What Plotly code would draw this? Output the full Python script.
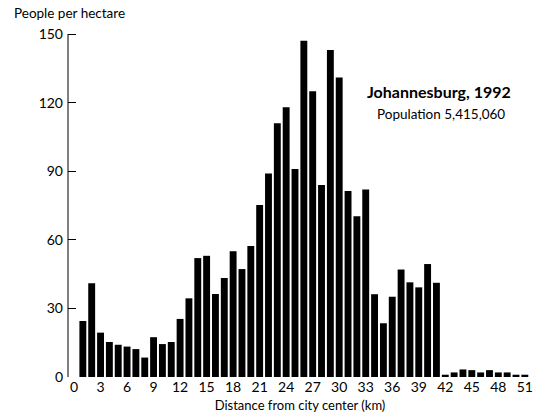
import plotly.graph_objects as go

# Population density by distance from Johannesburg city centre, 1992
distance_km = list(range(1, 52))
density = [
    24.5, 41, 19.4, 15.3, 14.1, 13.3, 12.2, 8.5, 17.4, 14.4,
    15.3, 25.4, 34.4, 52, 53, 36.3, 43.3, 55, 47.2, 57.3,
    75.2, 89, 111, 118, 91, 147, 125, 84, 143, 131,
    81.3, 70.3, 82, 36.2, 23.5, 35.1, 47, 41.4, 39.2, 49.4,
    41.2, 1, 2, 3.3, 3, 2, 3, 2, 2, 1,
    1,
]
x_ticks = list(range(0, 52, 3))
y_ticks = [0, 30, 60, 90, 120, 150]

FONT = "Lato"

fig = go.Figure(
    go.Bar(
        x=distance_km,
        y=density,
        width=0.78,
        marker=dict(color="black", line=dict(width=0)),
        hoverinfo="skip",
    )
)

fig.update_layout(
    width=536,
    height=417,
    margin=dict(l=68, r=4, t=30, b=40),
    paper_bgcolor="white",
    plot_bgcolor="white",
    showlegend=False,
    font=dict(family=FONT, color="black", size=13),
    xaxis=dict(
        range=[-0.68, 51.81],
        tickmode="array",
        tickvals=x_ticks,
        ticktext=[str(v) for v in x_ticks],
        showgrid=False,
        zeroline=False,
        showline=False,
        ticks="",
        tickfont=dict(size=14),
        title=dict(text="Distance from city center (km)", font=dict(size=13), standoff=6),
    ),
    yaxis=dict(
        range=[0, 151.75],
        tickmode="array",
        tickvals=y_ticks,
        ticktext=[str(v) for v in y_ticks],
        showgrid=False,
        zeroline=False,
        showline=False,
        ticks="inside",
        ticklen=8,
        tickwidth=1,
        tickcolor="black",
        tickfont=dict(size=14),
        ticklabelstandoff=4,
    ),
    shapes=[
        dict(
            type="line", xref="paper", yref="y",
            x0=0, x1=0, y0=0, y1=150,
            line=dict(color="black", width=1),
        )
    ],
    annotations=[
        dict(
            text="People per hectare", xref="paper", yref="paper",
            x=-68 / 464 + 12 / 464, y=1 + 17 / 347, xanchor="left", yanchor="middle",
            showarrow=False, font=dict(size=13.5),
        ),
        dict(
            text="<b>Johannesburg, 1992</b>", xref="paper", yref="paper",
            x=(439 - 68) / 464, y=(377 - 91) / 347, xanchor="center", yanchor="middle",
            showarrow=False, font=dict(size=16),
        ),
        dict(
            text="Population 5,415,060", xref="paper", yref="paper",
            x=(441 - 68) / 464, y=(377 - 114) / 347, xanchor="center", yanchor="middle",
            showarrow=False, font=dict(size=13.5),
        ),
    ],
)

fig.write_html("out.html")
